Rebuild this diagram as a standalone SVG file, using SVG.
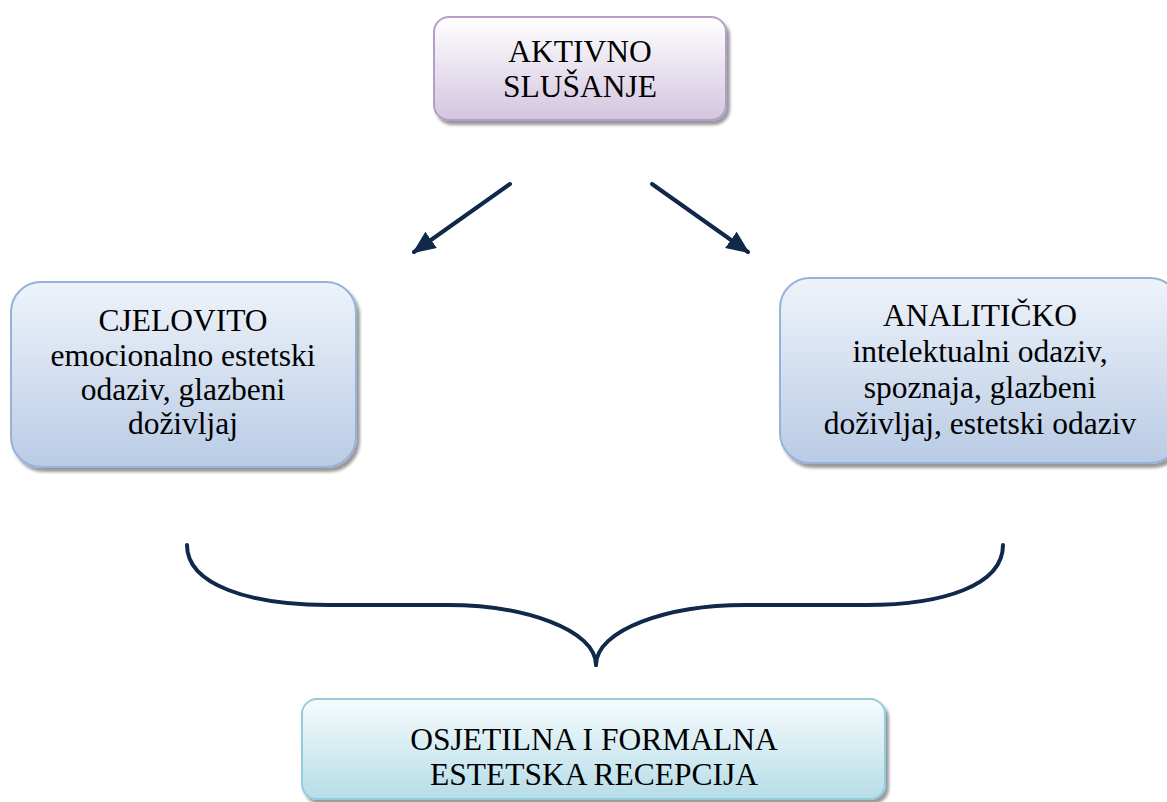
<svg xmlns="http://www.w3.org/2000/svg" width="1167" height="802" viewBox="0 0 1167 802">
<style>
.t{font-family:"Liberation Serif","Times New Roman",serif;font-size:31.5px;fill:#000;text-anchor:middle}
.box{stroke-width:2}
.conn{fill:none;stroke:#10284a;stroke-width:4;stroke-linecap:round}
</style>
<defs>
<linearGradient id="gPurple" x1="0" y1="0" x2="0" y2="1"><stop offset="0" stop-color="#ffffff"/><stop offset="1" stop-color="#d3c5df"/></linearGradient>
<linearGradient id="gBlue" x1="0" y1="0" x2="0" y2="1"><stop offset="0" stop-color="#eef3fa"/><stop offset="1" stop-color="#b9cbe5"/></linearGradient>
<linearGradient id="gCyan" x1="0" y1="0" x2="0" y2="1"><stop offset="0" stop-color="#f6fbfd"/><stop offset="1" stop-color="#b6dde8"/></linearGradient>
<filter id="sh" x="-10%" y="-10%" width="130%" height="140%"><feDropShadow dx="3" dy="4" stdDeviation="1.5" flood-color="#000" flood-opacity="0.4"/></filter>
<marker id="ah" markerUnits="userSpaceOnUse" markerWidth="26" markerHeight="22" refX="21" refY="10" orient="auto"><path d="M0,0 L23,10 L0,20 Z" fill="#10284a"/></marker>
</defs>
<g id="connectors">
<path class="conn" d="M510,184 L414,252" marker-end="url(#ah)"/>
<path class="conn" d="M652,184 L748,252" marker-end="url(#ah)"/>
<path class="conn" d="M187,545 C187,585 250,605 328,605 L447,605 C525,605 596,630 596,665"/>
<path class="conn" d="M596,665 C596,630 667,605 745,605 L866,605 C944,605 1003,585 1003,545"/>
</g>
<g id="aktivno">
<rect class="box" x="434" y="17" width="292" height="103" rx="15" fill="url(#gPurple)" stroke="#b49ec8" filter="url(#sh)"/>
<text class="t" x="580" y="62">AKTIVNO</text>
<text class="t" x="580" y="97">SLUŠANJE</text>
</g>
<g id="cjelovito">
<rect class="box" x="11" y="282" width="345" height="185" rx="30" fill="url(#gBlue)" stroke="#95b3d7" filter="url(#sh)"/>
<text class="t" x="183" y="331">CJELOVITO</text>
<text class="t" x="183" y="366">emocionalno estetski</text>
<text class="t" x="183" y="400">odaziv, glazbeni</text>
<text class="t" x="183" y="434">doživljaj</text>
</g>
<g id="analiticko">
<rect class="box" x="780" y="278" width="400" height="185" rx="30" fill="url(#gBlue)" stroke="#95b3d7" filter="url(#sh)"/>
<text class="t" x="980" y="326">ANALITIČKO</text>
<text class="t" x="980" y="362">intelektualni odaziv,</text>
<text class="t" x="980" y="398">spoznaja, glazbeni</text>
<text class="t" x="980" y="434">doživljaj, estetski odaziv</text>
</g>
<g id="osjetilna">
<rect class="box" x="302" y="699" width="583" height="100" rx="15" fill="url(#gCyan)" stroke="#93cddd" filter="url(#sh)"/>
<text class="t" x="594" y="750">OSJETILNA I FORMALNA</text>
<text class="t" x="594" y="785">ESTETSKA RECEPCIJA</text>
</g>
</svg>
